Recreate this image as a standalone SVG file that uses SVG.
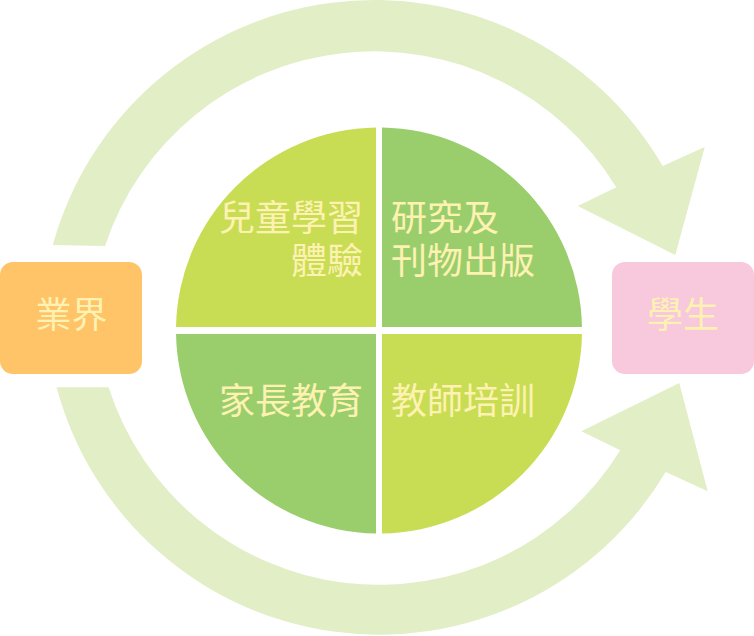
<svg xmlns="http://www.w3.org/2000/svg" width="754" height="636" viewBox="0 0 754 636">
<style>
.arrow{fill:#e2eec6;}
.lbl{font-family:"Noto Sans CJK TC","Noto Sans CJK SC",sans-serif;font-size:36px;fill:#fdf2b2;}
.yg{fill:#c8dd53;}
.gr{fill:#9ace6c;}
</style>
<rect width="754" height="636" fill="#ffffff"/>
<g id="connectors">
<path class="arrow" d="M52.8,245 A333.5,333.5 0 0 1 662.7,166 L704.7,147 L675.3,255 L577.7,206 L616.3,187.3 A283.5,283.5 0 0 0 105,246 Z"/>
<path class="arrow" d="M56.6,387.3 A333.8,333.8 0 0 0 665.7,472 L707.7,491.3 L679.3,383 L581.3,431.3 L620.3,450.3 A283.8,283.8 0 0 1 108.6,387.3 Z"/>
</g>
<g id="industry">
<rect x="0" y="262" width="142" height="112" rx="13" fill="#fec467"/>
<text class="lbl" x="71.5" y="328" text-anchor="middle">業界</text>
</g>
<g id="student">
<rect x="612" y="262" width="142" height="112" rx="13" fill="#f8c8dc"/>
<text class="lbl" x="683" y="328" text-anchor="middle">學生</text>
</g>
<g id="q-children">
<path class="yg" d="M376,327 L176.03,327 A203,203 0 0 1 376,127.5 Z"/>
<text class="lbl" text-anchor="end"><tspan x="363" y="231">兒童學習</tspan><tspan x="363" y="274">體驗</tspan></text>
</g>
<g id="q-research">
<path class="gr" d="M382,327 L382,127.5 A203,203 0 0 1 581.97,327 Z"/>
<text class="lbl"><tspan x="391" y="231">研究及</tspan><tspan x="391" y="274">刊物出版</tspan></text>
</g>
<g id="q-parents">
<path class="gr" d="M376,334 L376,533.5 A203,203 0 0 1 176.03,334 Z"/>
<text class="lbl" x="363" y="414" text-anchor="end">家長教育</text>
</g>
<g id="q-teachers">
<path class="yg" d="M382,334 L581.97,334 A203,203 0 0 1 382,533.5 Z"/>
<text class="lbl" x="391" y="414">教師培訓</text>
</g>
</svg>
